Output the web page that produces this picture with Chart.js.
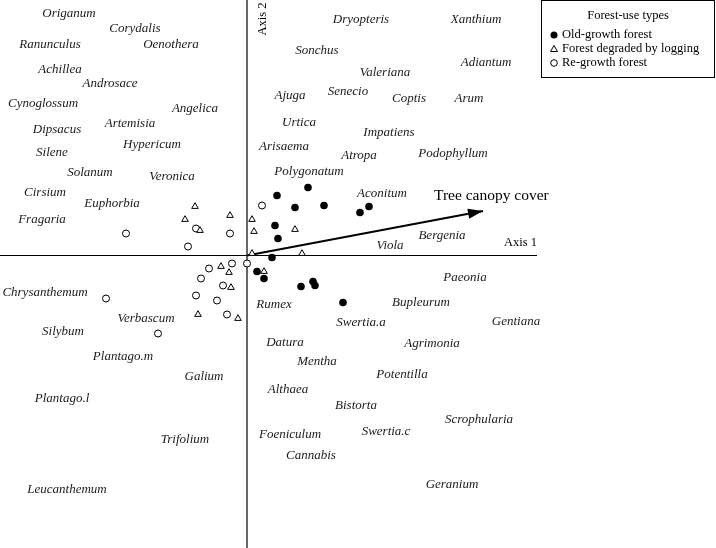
<!DOCTYPE html>
<html><head><meta charset="utf-8">
<script src="https://cdn.jsdelivr.net/npm/chart.js@4.4.0/dist/chart.umd.min.js"></script>
<style>html,body{margin:0;padding:0;background:#fff;}canvas{display:block;}</style>
</head><body>
<canvas id="c" width="716" height="548"></canvas>
<script>
// Sample scores (Axis 1, Axis 2)
const oldGrowthX = [0.61,0.30,0.48,0.77,1.13,1.22,0.28,0.31,0.25,0.10,0.17,0.66,0.68,0.54,0.96];
const oldGrowthY = [0.68,0.60,0.48,0.50,0.43,0.49,0.30,0.17,-0.02,-0.16,-0.23,-0.26,-0.30,-0.31,-0.47];
const degradedX = [-0.52,-0.62,-0.17,0.05,-0.47,0.07,0.48,0.05,0.55,-0.26,-0.18,0.17,-0.16,-0.49,-0.09];
const degradedY = [0.49,0.36,0.40,0.36,0.25,0.24,0.26,0.02,0.02,-0.11,-0.17,-0.16,-0.32,-0.59,-0.63];
const regrowthX = [0.15,-0.51,-0.17,-0.59,-0.15,0.00,-0.38,-0.46,-0.24,-0.51,-0.30,-0.20,-1.21,-1.41,-0.89];
const regrowthY = [0.50,0.27,0.22,0.09,-0.08,-0.08,-0.13,-0.23,-0.30,-0.40,-0.45,-0.59,0.22,-0.43,-0.78];

// Species scores
const speciesNames = ["Origanum","Corydalis","Ranunculus","Oenothera","Achillea","Androsace","Cynoglossum","Angelica","Artemisia","Dipsacus","Hypericum","Silene","Solanum","Veronica","Cirsium","Euphorbia","Fragaria","Dryopteris","Xanthium","Sonchus","Adiantum","Valeriana","Ajuga","Senecio","Coptis","Arum","Urtica","Impatiens","Arisaema","Atropa","Podophyllum","Polygonatum","Aconitum","Viola","Bergenia","Paeonia","Rumex","Bupleurum","Swertia.a","Gentiana","Datura","Agrimonia","Mentha","Potentilla","Althaea","Bistorta","Scrophularia","Swertia.c","Foeniculum","Cannabis","Geranium","Chrysanthemum","Verbascum","Silybum","Plantago.m","Galium","Plantago.l","Trifolium","Leucanthemum"];
const speciesX = [-1.78,-1.12,-1.97,-0.76,-1.87,-1.37,-2.04,-0.52,-1.17,-1.90,-0.95,-1.95,-1.57,-0.75,-2.02,-1.35,-2.05,1.14,2.29,0.70,2.39,1.38,0.43,1.01,1.62,2.22,0.52,1.42,0.37,1.12,2.06,0.62,1.35,1.43,1.95,2.18,0.27,1.74,1.14,2.69,0.38,1.85,0.70,1.55,0.41,1.09,2.32,1.39,0.43,0.64,2.05,-2.02,-1.01,-1.84,-1.24,-0.43,-1.85,-0.62,-1.80];
const speciesY = [2.42,2.27,2.11,2.11,1.86,1.72,1.52,1.47,1.32,1.26,1.11,1.03,0.83,0.79,0.63,0.52,0.36,2.36,2.36,2.05,1.93,1.83,1.60,1.64,1.57,1.57,1.33,1.23,1.09,1.00,1.02,0.84,0.62,0.10,0.20,-0.22,-0.49,-0.47,-0.67,-0.66,-0.87,-0.88,-1.06,-1.19,-1.34,-1.50,-1.64,-1.76,-1.79,-2.00,-2.29,-0.37,-0.63,-0.76,-1.01,-1.21,-1.43,-1.84,-2.34];

// Environmental vector
const vectorName = "Tree canopy cover";
const vectorX = 2.36;
const vectorY = 0.445;

const axisNames = ["Axis 1", "Axis 2"];
const legendTitle = "Forest-use types";
const legendLabels = ["Old-growth forest", "Forest degraded by logging", "Re-growth forest"];

const X_MIN = -2.47, X_MAX = 4.69, Y_MIN = -2.925, Y_MAX = 2.555, AXIS1_END = 2.90;

const pts = (xs, ys) => xs.map((x, i) => ({x, y: ys[i]}));
const INK = '#1a1a1a';

const overlay = {
  id: 'overlay',
  afterDatasetsDraw(chart) {
    const ctx = chart.ctx, sx = chart.scales.x, sy = chart.scales.y;
    ctx.save();
    // species labels
    ctx.fillStyle = INK;
    ctx.font = 'italic 13px "Liberation Serif", "Times New Roman", serif';
    ctx.textAlign = 'center'; ctx.textBaseline = 'middle';
    speciesNames.forEach((n, i) => {
      ctx.fillText(n, sx.getPixelForValue(speciesX[i]), sy.getPixelForValue(speciesY[i]));
    });
    // arrow head
    const x0 = sx.getPixelForValue(0), y0 = sy.getPixelForValue(0);
    const x1 = sx.getPixelForValue(vectorX), y1 = sy.getPixelForValue(vectorY);
    const a = Math.atan2(y1 - y0, x1 - x0);
    const L = 15, W = 5;
    ctx.beginPath();
    ctx.moveTo(x1, y1);
    ctx.lineTo(x1 - L*Math.cos(a) + W*Math.sin(a), y1 - L*Math.sin(a) - W*Math.cos(a));
    ctx.lineTo(x1 - L*Math.cos(a) - W*Math.sin(a), y1 - L*Math.sin(a) + W*Math.cos(a));
    ctx.closePath();
    ctx.fillStyle = '#000'; ctx.fill();
    // vector label
    ctx.fillStyle = '#000';
    ctx.font = '15.5px "Liberation Serif", "Times New Roman", serif';
    ctx.textAlign = 'left'; ctx.textBaseline = 'middle';
    ctx.fillText(vectorName, 434, 196);
    // axis labels
    ctx.font = '12.5px "Liberation Serif", "Times New Roman", serif';
    ctx.textAlign = 'right';
    ctx.fillText(axisNames[0], sx.getPixelForValue(AXIS1_END), y0 - 13);
    ctx.save();
    ctx.translate(x0 + 16, 19);
    ctx.rotate(-Math.PI/2);
    ctx.textAlign = 'center';
    ctx.fillText(axisNames[1], 0, 0);
    ctx.restore();
    // legend
    ctx.strokeStyle = '#000'; ctx.lineWidth = 1;
    ctx.strokeRect(541.5, 0.5, 173, 77);
    ctx.font = '12.5px "Liberation Serif", "Times New Roman", serif';
    ctx.textAlign = 'center';
    ctx.fillText(legendTitle, 628, 16);
    ctx.textAlign = 'left';
    const ly = [35, 49, 63], mx = 554;
    legendLabels.forEach((t, i) => ctx.fillText(t, mx + 8, ly[i]));
    ctx.beginPath(); ctx.arc(mx, ly[0], 3.5, 0, 2*Math.PI); ctx.fillStyle = '#000'; ctx.fill();
    ctx.beginPath();
    ctx.moveTo(mx, ly[1] - 3.5); ctx.lineTo(mx + 3.5, ly[1] + 2.5); ctx.lineTo(mx - 3.5, ly[1] + 2.5); ctx.closePath();
    ctx.stroke();
    ctx.beginPath(); ctx.arc(mx, ly[2], 3.3, 0, 2*Math.PI); ctx.stroke();
    ctx.restore();
  }
};

new Chart(document.getElementById('c'), {
  type: 'scatter',
  data: {
    datasets: [
      {type: 'line', data: [{x: X_MIN, y: 0}, {x: AXIS1_END, y: 0}], borderColor: '#000', borderWidth: 1.2, pointRadius: 0, order: 10, clip: false},
      {type: 'line', data: [{x: 0, y: Y_MIN}, {x: 0, y: Y_MAX}], borderColor: '#000', borderWidth: 1.2, pointRadius: 0, order: 10, clip: false},
      {type: 'line', data: [{x: 0, y: 0}, {x: vectorX, y: vectorY}], borderColor: '#000', borderWidth: 2, pointRadius: 0, order: 9},
      {label: legendLabels[0], data: pts(oldGrowthX, oldGrowthY), pointStyle: 'circle', pointRadius: 3.8, backgroundColor: '#000', borderColor: '#000', borderWidth: 0, order: 1},
      {label: legendLabels[1], data: pts(degradedX, degradedY), pointStyle: 'triangle', pointRadius: 3.8, backgroundColor: '#fff', borderColor: '#000', borderWidth: 1, order: 2},
      {label: legendLabels[2], data: pts(regrowthX, regrowthY), pointStyle: 'circle', pointRadius: 3.5, backgroundColor: '#fff', borderColor: '#000', borderWidth: 1, order: 3}
    ]
  },
  options: {
    responsive: false, animation: false, devicePixelRatio: 1,
    layout: {padding: 0, autoPadding: false},
    plugins: {legend: {display: false}, tooltip: {enabled: false}},
    scales: {
      x: {type: 'linear', display: false, min: X_MIN, max: X_MAX},
      y: {type: 'linear', display: false, min: Y_MIN, max: Y_MAX}
    },
    elements: {line: {tension: 0}}
  },
  plugins: [overlay]
});
</script>
</body></html>
